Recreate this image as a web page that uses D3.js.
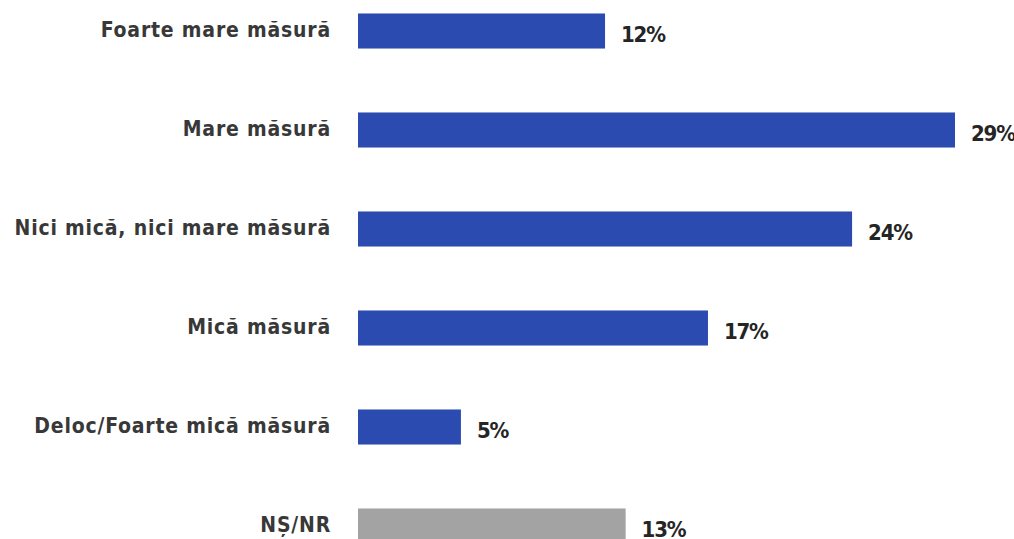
<!DOCTYPE html>
<html><head><meta charset="utf-8">
<script src="https://cdn.jsdelivr.net/npm/d3@7"></script>
<style>body{margin:0;background:#fff;}svg{display:block;}</style>
</head><body>
<svg id="c" width="1014" height="539"></svg>
<script>
const categories = ["Foarte mare măsură","Mare măsură","Nici mică, nici mare măsură","Mică măsură","Deloc/Foarte mică măsură","NȘ/NR"];
const values = [12,29,24,17,5,13];
const valueLabels = ["12%","29%","24%","17%","5%","13%"];
const barColors = ["#2b4bb0","#2b4bb0","#2b4bb0","#2b4bb0","#2b4bb0","#a3a3a3"];

const svg = d3.select("#c");
const x = d3.scaleLinear().domain([0,29]).range([358,955]);
const y = d3.scaleBand().domain(categories).range([-18.5,575.5]).paddingInner(0.646).paddingOuter(0.323);

svg.selectAll("rect.bar").data(categories).join("rect")
  .attr("class","bar")
  .attr("x", x(0))
  .attr("y", d=>y(d))
  .attr("width", (d,i)=>x(values[i])-x(0))
  .attr("height", y.bandwidth())
  .attr("fill", (d,i)=>barColors[i]);

const font = "'DejaVu Sans Condensed', 'DejaVu Sans', sans-serif";
svg.selectAll("text.cat").data(categories).join("text")
  .attr("class","cat")
  .attr("x", 331)
  .attr("y", d=>y(d)+y.bandwidth()/2)
  .attr("dy","0.3em")
  .attr("text-anchor","end")
  .attr("font-family", font)
  .attr("font-weight","bold")
  .attr("font-size", 21)
  .attr("letter-spacing", "0.8px")
  .attr("fill","#383838")
  .text(d=>d);

svg.selectAll("text.val").data(categories).join("text")
  .attr("class","val")
  .attr("x", (d,i)=>x(values[i])+16)
  .attr("y", d=>y(d)+y.bandwidth()/2)
  .attr("dy","0.48em")
  .attr("font-family", font)
  .attr("font-weight","bold")
  .attr("font-size", 22)
  .attr("letter-spacing", "-1.2px")
  .attr("fill","#252525")
  .text((d,i)=>valueLabels[i]);
</script>
</body></html>
